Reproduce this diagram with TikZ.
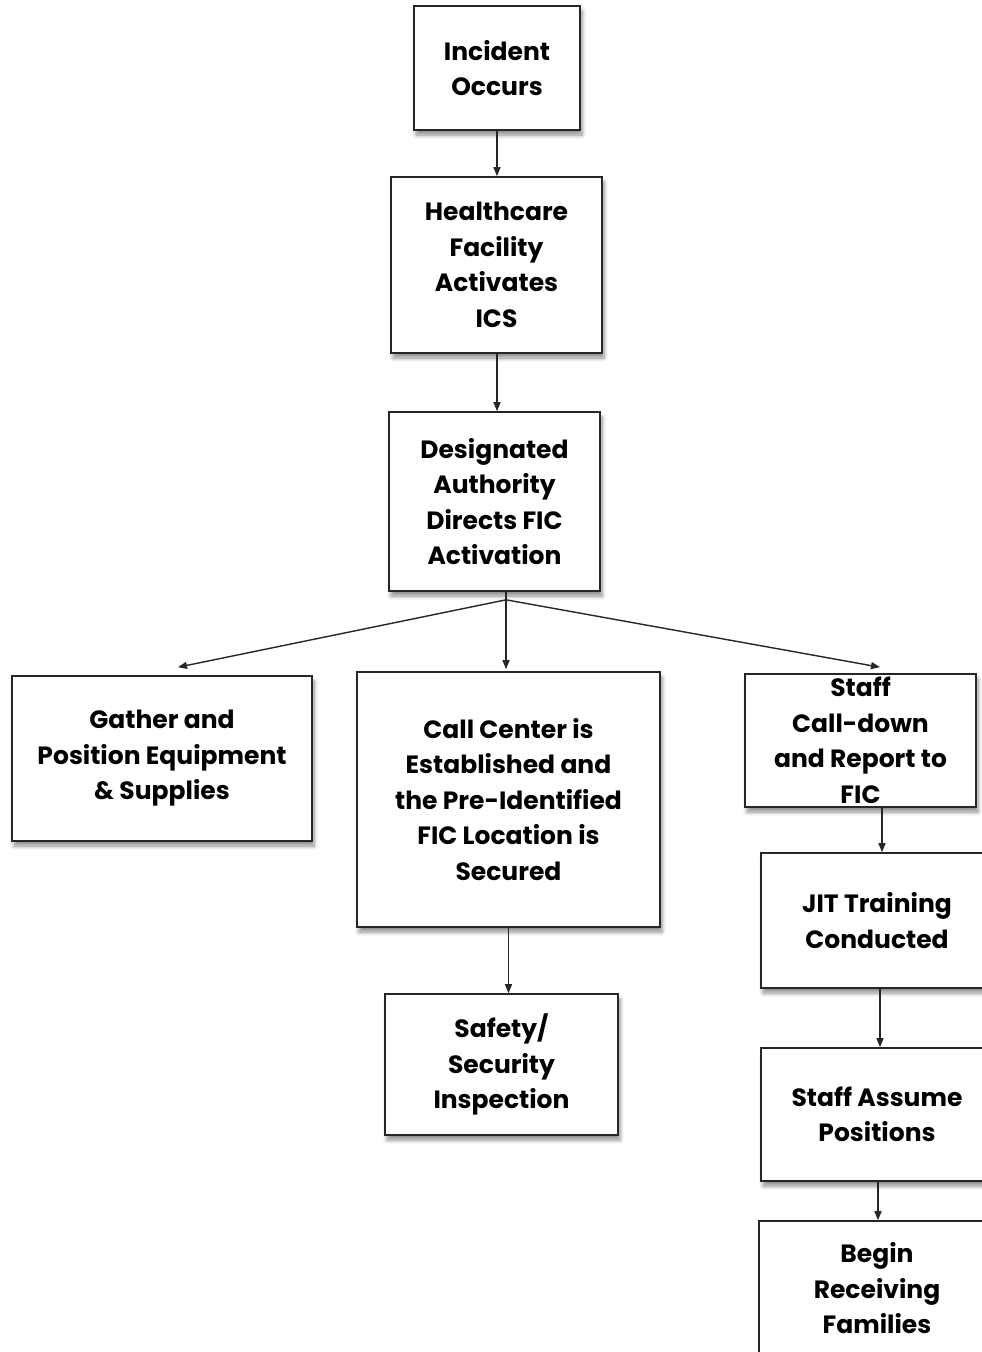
\documentclass[tikz,border=0pt]{standalone}
\usepackage{fontspec}
\setmainfont{Poppins}
\usetikzlibrary{arrows.meta,shadows.blur}
\tikzset{
  box/.style={draw=black!85, line width=1.6pt, fill=white, inner sep=0pt,
    blur shadow={shadow xshift=2pt, shadow yshift=-5pt, shadow blur steps=6, shadow blur radius=4pt, shadow opacity=45},
    align=center, font=\fontsize{25}{35.5}\selectfont\bfseries},
  txt/.style={inner sep=0pt, align=center, font=\fontsize{25}{35.5}\selectfont\bfseries},
  arr/.style={line width=1.4pt, draw=black!85, -{Triangle[length=9pt,width=7pt]}},
  ln/.style={line width=1.4pt, draw=black!85}
}
\begin{document}
\begin{tikzpicture}[x=1pt,y=-1pt]
\useasboundingbox (0,0) rectangle (982,1352);
\clip (0,0) rectangle (982,1352);
\node[box, minimum width=166pt, minimum height=124pt] (inc) at (497,68) {Incident\\Occurs};
\node[box, minimum width=211pt, minimum height=176pt] (hc) at (496.5,265) {Healthcare\\Facility\\Activates\\ICS};
\node[box, minimum width=211pt, minimum height=179pt] (da) at (494.5,501.5) {Designated\\Authority\\Directs FIC\\Activation};
\node[box, minimum width=300pt, minimum height=165pt] (gather) at (162,758.5) {Gather and\\Position Equipment\\\& Supplies};
\node[box, minimum width=303pt, minimum height=255pt] (call) at (508.5,799.5) {Call Center is\\Established and\\the Pre-Identified\\FIC Location is\\Secured};
\node[box, minimum width=231pt, minimum height=133pt,
  label={[txt]center:Staff\\Call-down\\and Report to\\FIC}] (staff) at (860.5,740.5) {};
\node[box, minimum width=233pt, minimum height=141pt] (safety) at (501.5,1064.5) {Safety/\\Security\\Inspection};
\node[box, minimum width=232pt, minimum height=135pt] (jit) at (877,920.5) {JIT Training\\Conducted};
\node[box, minimum width=232pt, minimum height=133pt] (assume) at (877,1114.5) {Staff Assume\\Positions};
\node[box, minimum width=236pt, minimum height=135pt] (begin) at (877,1288.5) {Begin\\Receiving\\Families};
\coordinate (br) at ([xshift=11.5pt,yshift=-8pt]da.south);
\draw[arr] (inc.south) -- (inc.south |- hc.north);
\draw[arr] ([xshift=0.5pt]hc.south) -- ([xshift=0.5pt]hc.south |- da.north);
\draw[ln] ([xshift=11.5pt]da.south) -- (br);
\draw[arr] (br) -- ([xshift=16pt,yshift=8pt]gather.north);
\draw[arr] (br) -- ([xshift=-2.5pt,yshift=2pt]call.north);
\draw[arr] (br) -- ([xshift=19.5pt,yshift=6pt]staff.north);
\draw[arr] (call.south) -- (call.south |- safety.north);
\draw[arr] ([xshift=21.5pt]staff.south) -- ([xshift=5pt]jit.north);
\draw[arr] ([xshift=3pt]jit.south) -- ([xshift=3pt]assume.north);
\draw[arr] ([xshift=1pt]assume.south) -- ([xshift=1pt]begin.north);
\end{tikzpicture}
\end{document}
